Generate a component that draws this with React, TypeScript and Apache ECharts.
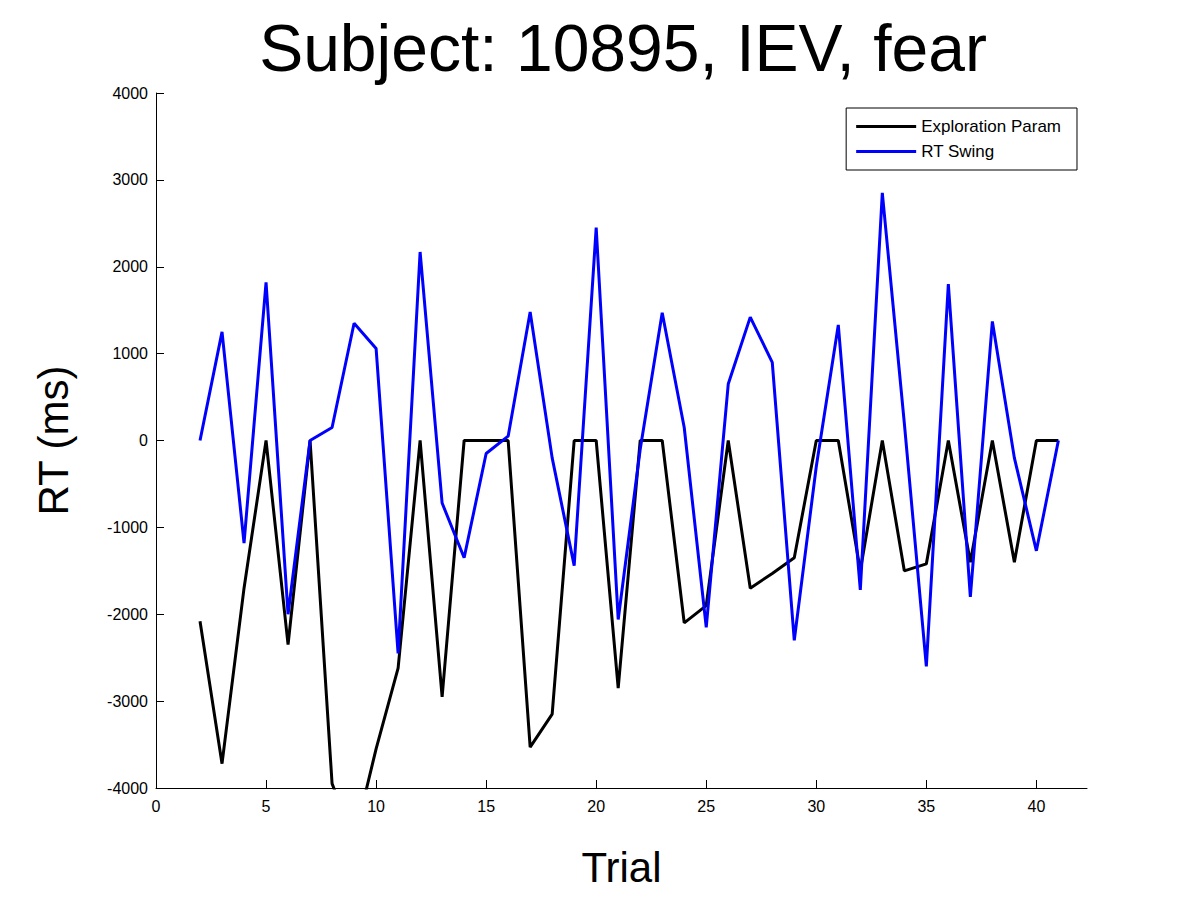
import React, { useEffect, useRef } from "react";
import * as echarts from "echarts";

const trials = [2,3,4,5,6,7,8,9,10,11,12,13,14,15,16,17,18,19,20,21,22,23,24,25,26,27,28,29,30,31,32,33,34,35,36,37,38,39,40,41];
const exploration = [-2080,-3720,-1700,0,-2350,0,-3950,-4600,-3550,-2620,0,-2950,0,0,0,-3530,-3150,0,0,-2850,0,0,-2100,-1900,0,-1700,-1530,-1350,0,0,-1500,0,-1500,-1420,0,-1400,0,-1400,0,0];
const rtSwing = [0,1250,-1180,1820,-2000,0,150,1350,1060,-2450,2170,-720,-1350,-150,50,1480,-200,-1440,2450,-2060,-100,1470,150,-2150,650,1420,900,-2300,-300,1330,-1720,2850,200,-2600,1800,-1800,1370,-200,-1270,0];

export default function App() {
  const ref = useRef<HTMLDivElement>(null);
  useEffect(() => {
    const chart = echarts.init(ref.current!, null, { renderer: "svg" });
    const font = "Liberation Sans";
    const axisCommon = {
      axisLine: { onZero: false, lineStyle: { color: "#000", width: 1 } },
      axisTick: { inside: true, length: 8, lineStyle: { color: "#000" } },
      splitLine: { show: false },
      nameTextStyle: { color: "#000", fontSize: 42, fontFamily: font },
    };
    const lbl = { color: "#000", fontSize: 16, fontFamily: font, formatter: (v: number) => String(v) };
    chart.setOption({
      animation: false,
      backgroundColor: "#fff",
      title: {
        text: "Subject: 10895, IEV, fear",
        left: 610, top: 2, textAlign: "center",
        textStyle: { fontSize: 66, fontWeight: "normal", color: "#000", fontFamily: font },
      },
      grid: { left: 148, right: 106, top: 85, bottom: 93 },
      legend: {
        right: 116, top: 100, orient: "vertical",
        backgroundColor: "#fff", borderColor: "#000", borderWidth: 1,
        padding: [10, 16, 10, 10], itemGap: 8, itemWidth: 60, itemHeight: 3,
        textStyle: { color: "#000", fontSize: 17, fontFamily: font },
        icon: "rect",
      },
      xAxis: {
        type: "value", min: 0, max: 42.3, interval: 5,
        name: "Trial", nameLocation: "middle", nameGap: 58,
        ...axisCommon,
        axisLabel: { ...lbl, showMaxLabel: false, margin: 10 },
      },
      yAxis: {
        type: "value", min: -4000, max: 4000, interval: 1000,
        name: "RT (ms)", nameLocation: "middle", nameGap: 82,
        ...axisCommon,
        axisLabel: lbl,
      },
      series: [
        { name: "Exploration Param", type: "line", data: trials.map((t, i) => [t, exploration[i]]),
          showSymbol: false, lineStyle: { color: "#000", width: 3 }, itemStyle: { color: "#000" } },
        { name: "RT Swing", type: "line", data: trials.map((t, i) => [t, rtSwing[i]]),
          showSymbol: false, lineStyle: { color: "#0000ff", width: 3 }, itemStyle: { color: "#0000ff" } },
      ],
    });
    return () => chart.dispose();
  }, []);
  return <div ref={ref} style={{ width: 1185, height: 885 }} />;
}
